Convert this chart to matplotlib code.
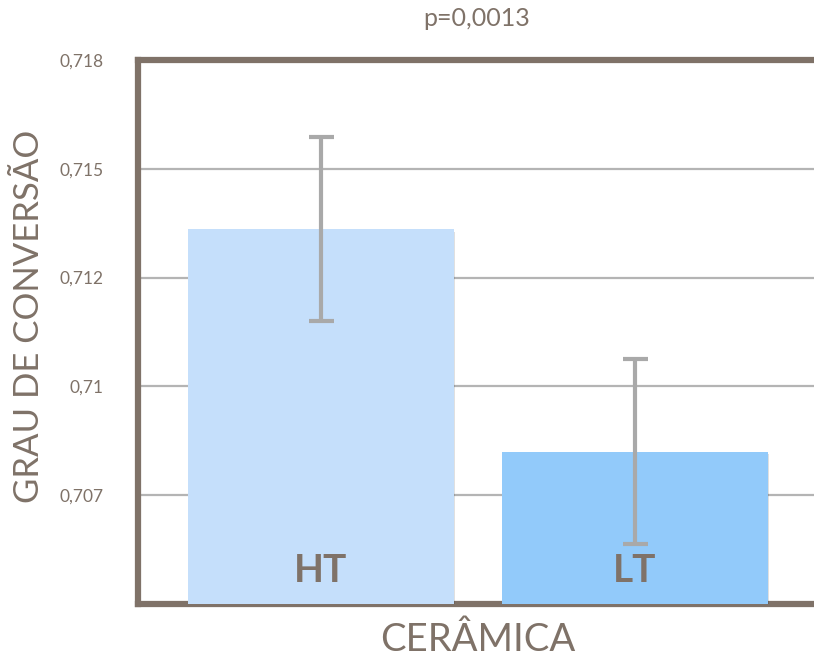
import matplotlib
matplotlib.use("Agg")
import matplotlib.pyplot as plt
import matplotlib.patheffects as pe

# dados
grupos = ["HT", "LT"]
medias = [0.71362, 0.70850]
erros = [0.00212, 0.00212]
cores = ["#c5dffb", "#92cafa"]
ticks_y = [0.7075, 0.71, 0.7125, 0.715, 0.7175]
rotulos_y = ["0,707", "0,71", "0,712", "0,715", "0,718"]

marrom = "#7f7268"
plt.rcParams["font.family"] = ["Lato", "DejaVu Sans"]

fig = plt.figure(figsize=(8.14, 6.6), dpi=100)
ax = fig.add_axes([138 / 814, 56 / 660, 692 / 814, 544 / 660])

x = list(range(len(grupos)))
barras = ax.bar(x, [m - 0.705 for m in medias], bottom=0.705, width=0.847,
                color=cores, zorder=3)
for b in barras:
    b.set_path_effects([pe.SimplePatchShadow(offset=(1, -2), alpha=0.12, shadow_rgbFace="k"),
                        pe.Normal()])

ax.errorbar(x, medias, yerr=erros, fmt="none", ecolor="#a9a9a9",
            elinewidth=3, capsize=9, capthick=3, zorder=4)

for xi, g in zip(x, grupos):
    ax.text(xi, 0.70578, g, ha="center", va="center", fontsize=28,
            fontweight="bold", color=marrom, zorder=5)

ax.set_xlim(-0.583, 1.621)
ax.set_ylim(0.705, 0.7175)
ax.set_yticks(ticks_y)
ax.set_yticklabels(rotulos_y)
ax.set_xticks([])
ax.tick_params(axis="y", length=0, pad=25, labelsize=12.5, labelcolor=marrom)
ax.yaxis.grid(True, color="#b4b4b4", linewidth=1.6, zorder=0)
ax.set_axisbelow(True)

for lado in ["left", "top", "bottom"]:
    ax.spines[lado].set_color(marrom)
    ax.spines[lado].set_linewidth(4.5)
ax.spines["right"].set_visible(False)

fig.text(29 / 814, 1 - 316 / 660, "GRAU DE CONVERSÃO", rotation=90,
         ha="center", va="center", fontsize=25, color=marrom)
fig.text(478 / 814, 1 - 640 / 660, "CERÂMICA", ha="center", va="center",
         fontsize=27.5, color=marrom)
fig.text(477 / 814, 1 - 18 / 660, "p=0,0013", ha="center", va="center",
         fontsize=18, color=marrom)

fig.savefig("out.png", dpi=100)
